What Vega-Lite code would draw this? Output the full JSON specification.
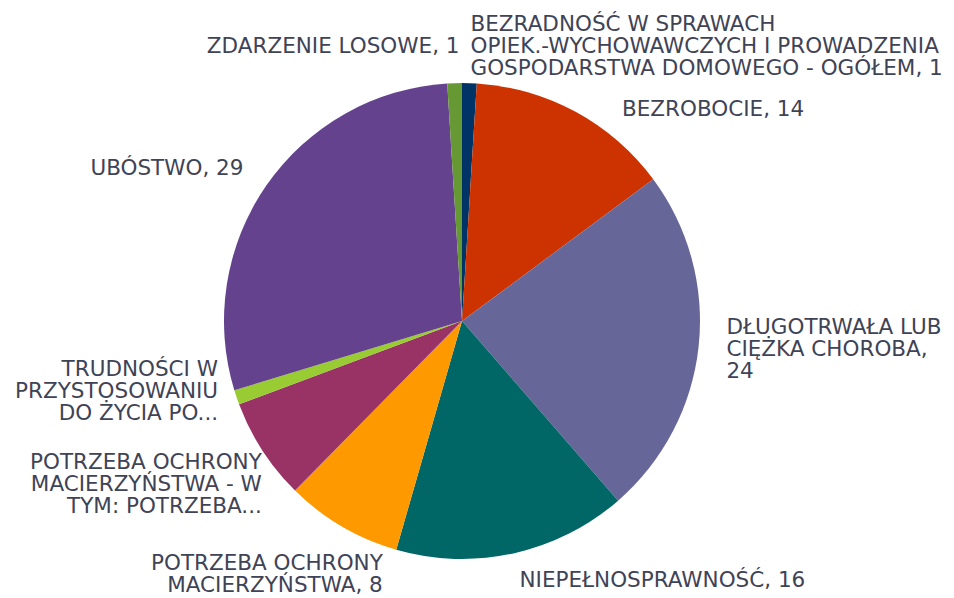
{
  "$schema": "https://vega.github.io/schema/vega-lite/v6.json",
  "autosize": "none",
  "width": 924,
  "height": 554,
  "padding": {"left": 0, "top": 44, "right": 30, "bottom": 0},
  "background": "white",
  "config": {"view": {"stroke": null}, "text": {"font": "DejaVu Sans", "fontSize": 21.5, "lineHeight": 22, "lineBreak": "\n", "fill": "#3f4356", "baseline": "middle"}},
  "data": {
    "values": [
      {"kategoria": "BEZRADNOŚĆ W SPRAWACH OPIEK.-WYCHOWAWCZYCH I PROWADZENIA GOSPODARSTWA DOMOWEGO - OGÓŁEM", "liczba": 1, "etykieta": "BEZRADNOŚĆ W SPRAWACH\nOPIEK.-WYCHOWAWCZYCH I PROWADZENIA\nGOSPODARSTWA DOMOWEGO - OGÓŁEM, 1"},
      {"kategoria": "BEZROBOCIE", "liczba": 14, "etykieta": "BEZROBOCIE, 14"},
      {"kategoria": "DŁUGOTRWAŁA LUB CIĘŻKA CHOROBA", "liczba": 24, "etykieta": "DŁUGOTRWAŁA LUB\nCIĘŻKA CHOROBA,\n24"},
      {"kategoria": "NIEPEŁNOSPRAWNOŚĆ", "liczba": 16, "etykieta": "NIEPEŁNOSPRAWNOŚĆ, 16"},
      {"kategoria": "POTRZEBA OCHRONY MACIERZYŃSTWA", "liczba": 8, "etykieta": "POTRZEBA OCHRONY\nMACIERZYŃSTWA, 8"},
      {"kategoria": "POTRZEBA OCHRONY MACIERZYŃSTWA - W TYM: POTRZEBA...", "liczba": 7, "etykieta": "POTRZEBA OCHRONY\nMACIERZYŃSTWA - W\nTYM: POTRZEBA..."},
      {"kategoria": "TRUDNOŚCI W PRZYSTOSOWANIU DO ŻYCIA PO...", "liczba": 1, "etykieta": "TRUDNOŚCI W\nPRZYSTOSOWANIU\nDO ŻYCIA PO..."},
      {"kategoria": "UBÓSTWO", "liczba": 29, "etykieta": "UBÓSTWO, 29"},
      {"kategoria": "ZDARZENIE LOSOWE", "liczba": 1, "etykieta": "ZDARZENIE LOSOWE, 1"}
    ]
  },
  "encoding": {
    "theta": {"field": "liczba", "type": "quantitative", "stack": true},
    "order": {"field": "kategoria", "type": "ordinal", "sort": "ascending"}
  },
  "layer": [
    {
      "mark": {"type": "arc", "outerRadius": 238},
      "encoding": {
        "color": {
          "field": "kategoria",
          "type": "nominal",
          "legend": null,
          "scale": {
            "domain": [
              "BEZRADNOŚĆ W SPRAWACH OPIEK.-WYCHOWAWCZYCH I PROWADZENIA GOSPODARSTWA DOMOWEGO - OGÓŁEM",
              "BEZROBOCIE",
              "DŁUGOTRWAŁA LUB CIĘŻKA CHOROBA",
              "NIEPEŁNOSPRAWNOŚĆ",
              "POTRZEBA OCHRONY MACIERZYŃSTWA",
              "POTRZEBA OCHRONY MACIERZYŃSTWA - W TYM: POTRZEBA...",
              "TRUDNOŚCI W PRZYSTOSOWANIU DO ŻYCIA PO...",
              "UBÓSTWO",
              "ZDARZENIE LOSOWE"
            ],
            "range": ["#003366", "#cc3300", "#666699", "#006666", "#ff9900", "#993366", "#99cc33", "#64428e", "#669933"]
          }
        }
      }
    },
    {
      "mark": {"type": "text", "radius": 266, "align": "left"},
      "encoding": {
        "text": {"field": "etykieta"},
        "opacity": {"condition": {"test": "datum.kategoria == 'NIEPEŁNOSPRAWNOŚĆ'", "value": 1}, "value": 0}
      }
    },
    {
      "mark": {"type": "text", "radius": 266, "align": "left", "dy": -22},
      "encoding": {
        "text": {"field": "etykieta"},
        "opacity": {"condition": {"test": "datum.kategoria == 'DŁUGOTRWAŁA LUB CIĘŻKA CHOROBA'", "value": 1}, "value": 0}
      }
    },
    {
      "mark": {"type": "text", "radius": 274, "align": "left", "dy": -22},
      "encoding": {
        "text": {"field": "etykieta"},
        "opacity": {"condition": {"test": "indexof(datum.kategoria, 'BEZRADNOŚĆ') == 0", "value": 1}, "value": 0}
      }
    },
    {
      "mark": {"type": "text", "radius": 274, "align": "right", "dx": 6},
      "encoding": {
        "text": {"field": "etykieta"},
        "opacity": {"condition": {"test": "datum.kategoria == 'ZDARZENIE LOSOWE'", "value": 1}, "value": 0}
      }
    },
    {
      "mark": {"type": "text", "radius": 266, "align": "right"},
      "encoding": {
        "text": {"field": "etykieta"},
        "opacity": {"condition": {"test": "datum.kategoria == 'UBÓSTWO'", "value": 1}, "value": 0}
      }
    },
    {
      "mark": {"type": "text", "radius": 266, "align": "right", "dx": 8, "dy": -36},
      "encoding": {
        "text": {"field": "etykieta"},
        "opacity": {"condition": {"test": "indexof(datum.kategoria, 'TRUDNOŚCI') == 0", "value": 1}, "value": 0}
      }
    },
    {
      "mark": {"type": "text", "radius": 266, "align": "left", "dx": 33, "dy": 23},
      "encoding": {
        "text": {"field": "etykieta"},
        "opacity": {"condition": {"test": "datum.kategoria == 'BEZROBOCIE'", "value": 1}, "value": 0}
      }
    },
    {
      "mark": {"type": "text", "radius": 266, "align": "right", "dx": 55, "dy": 13},
      "encoding": {
        "text": {"field": "etykieta"},
        "opacity": {"condition": {"test": "datum.kategoria == 'POTRZEBA OCHRONY MACIERZYŃSTWA'", "value": 1}, "value": 0}
      }
    },
    {
      "mark": {"type": "text", "radius": 266, "align": "right", "dx": 23, "dy": -3},
      "encoding": {
        "text": {"field": "etykieta"},
        "opacity": {"condition": {"test": "datum.kategoria == 'POTRZEBA OCHRONY MACIERZYŃSTWA - W TYM: POTRZEBA...'", "value": 1}, "value": 0}
      }
    }
  ]
}
